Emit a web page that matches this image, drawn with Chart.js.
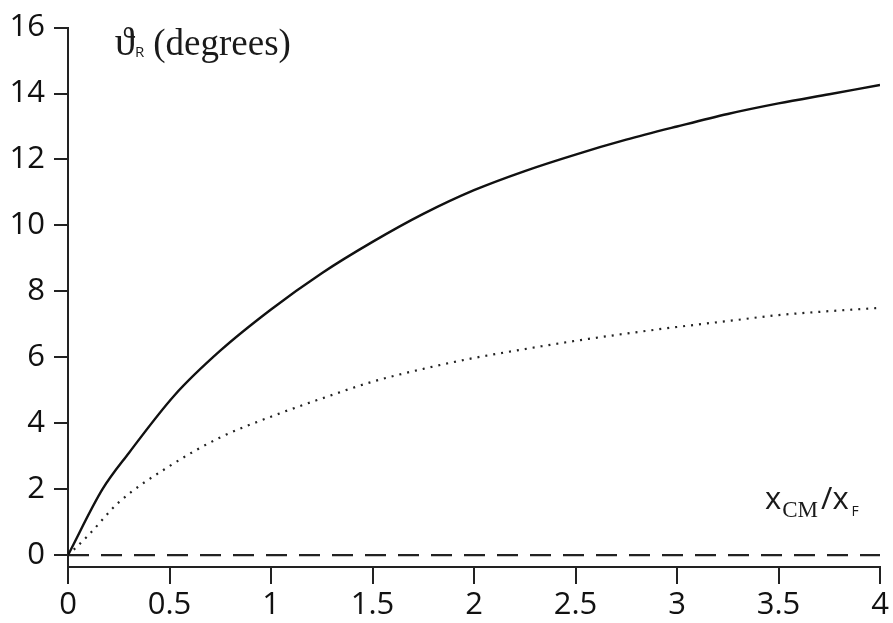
<!DOCTYPE html>
<html>
<head>
<meta charset="utf-8">
<script src="https://cdn.jsdelivr.net/npm/chart.js@4/dist/chart.umd.min.js"></script>
<style>
  html, body { margin: 0; padding: 0; background: #fff; }
  #wrap { width: 893px; height: 623px; }
</style>
</head>
<body>
<div id="wrap"><canvas id="myChart" width="893" height="623"></canvas></div>
<script>
// values
const solidX = [0, 0.17, 0.3, 0.525, 0.75, 1, 1.25, 1.5, 1.75, 2, 2.25, 2.5, 2.75, 3, 3.25, 3.5, 3.75, 4];
const solidY = [0, 2.0, 3.1, 4.85, 6.2, 7.45, 8.55, 9.5, 10.35, 11.07, 11.65, 12.15, 12.6, 13.0, 13.38, 13.7, 13.98, 14.26];
const dottedX = [0, 0.1, 0.25, 0.5, 0.75, 1, 1.25, 1.5, 1.75, 2, 2.25, 2.5, 2.75, 3, 3.25, 3.5, 3.75, 4];
const dottedY = [0, 0.6, 1.6, 2.7, 3.57, 4.2, 4.75, 5.26, 5.65, 5.98, 6.25, 6.5, 6.72, 6.92, 7.1, 7.28, 7.4, 7.5];
const dashedX = [0, 4];
const dashedY = [0, 0];
const yTicks = [0, 2, 4, 6, 8, 10, 12, 14, 16];
const xTicks = [0, 0.5, 1, 1.5, 2, 2.5, 3, 3.5, 4];

function pts(xs, ys) {
  return xs.map(function (x, i) { return { x: x, y: ys[i] }; });
}

const tickFont = { family: "'Open Sans', sans-serif", size: 31 };

// axis labels drawn on the canvas
const labelsPlugin = {
  id: "axisLabels",
  afterDraw: function (chart) {
    const c = chart.ctx;
    const xs = chart.scales.x;
    c.save();
    c.fillStyle = "#1a1a1a";
    c.textBaseline = "alphabetic";
    c.textAlign = "left";
    // y label
    let px = xs.getPixelForValue(0.23), py = 55;
    c.font = "41px 'Liberation Serif', serif";
    c.fillText("\u03D1", px, py);
    px += c.measureText("\u03D1").width;
    c.font = "15px 'Open Sans', sans-serif";
    c.fillText("R", px, py + 2);
    px += c.measureText("R").width + 9;
    c.font = "37px 'Liberation Serif', serif";
    c.fillText("(degrees)", px, py);
    // x label
    px = 765; py = 509;
    c.font = "31px 'Open Sans', sans-serif";
    c.fillText("x", px, py);
    px += c.measureText("x").width + 1;
    c.font = "23px 'Liberation Serif', serif";
    c.fillText("CM", px, 517);
    px += c.measureText("CM").width + 3;
    c.font = "31px 'Open Sans', sans-serif";
    c.fillText("/", px, py);
    px += c.measureText("/").width;
    c.fillText("x", px, py);
    px += c.measureText("x").width + 3;
    c.font = "14px 'Open Sans', sans-serif";
    c.fillText("F", px, 516);
    c.restore();
  }
};

const ctx = document.getElementById("myChart");
const myChart = new Chart(ctx, {
  type: "line",
  data: {
    datasets: [
      {
        label: "solid",
        data: pts(solidX, solidY),
        borderColor: "#111",
        borderWidth: 2.4,
        pointRadius: 0,
        cubicInterpolationMode: "monotone",
        fill: false
      },
      {
        label: "dotted",
        data: pts(dottedX, dottedY),
        borderColor: "#222",
        borderWidth: 2.2,
        borderDash: [2, 6],
        pointRadius: 0,
        cubicInterpolationMode: "monotone",
        fill: false
      },
      {
        label: "dashed",
        data: pts(dashedX, dashedY),
        borderColor: "#222",
        borderWidth: 2.4,
        borderDash: [21, 12],
        pointRadius: 0,
        fill: false
      }
    ]
  },
  options: {
    responsive: false,
    animation: false,
    layout: { padding: { top: 22, right: 13, left: 0, bottom: 0 } },
    plugins: { legend: { display: false }, tooltip: { enabled: false } },
    scales: {
      x: {
        type: "linear",
        min: 0,
        max: 4,
        afterBuildTicks: function (s) { s.ticks = xTicks.map(function (v) { return { value: v }; }); },
        afterFit: function (s) { s.height = 56; },
        border: { display: true, color: "#222", width: 2 },
        grid: { drawOnChartArea: false, drawTicks: true, tickLength: 17, color: "#222", lineWidth: 2 },
        ticks: {
          color: "#111",
          font: tickFont,
          padding: 3,
          maxRotation: 0,
          autoSkip: false,
          callback: function (v) { return String(v); }
        }
      },
      y: {
        type: "linear",
        min: -0.36,
        max: 16,
        afterBuildTicks: function (s) { s.ticks = yTicks.map(function (v) { return { value: v }; }); },
        afterFit: function (s) { s.width = 68; },
        border: { display: true, color: "#222", width: 2 },
        grid: { drawOnChartArea: false, drawTicks: true, tickLength: 14, color: "#222", lineWidth: 2 },
        ticks: {
          color: "#111",
          font: tickFont,
          padding: 9,
          autoSkip: false,
          callback: function (v) { return String(v); }
        }
      }
    }
  },
  plugins: [labelsPlugin]
});
</script>
</body>
</html>
